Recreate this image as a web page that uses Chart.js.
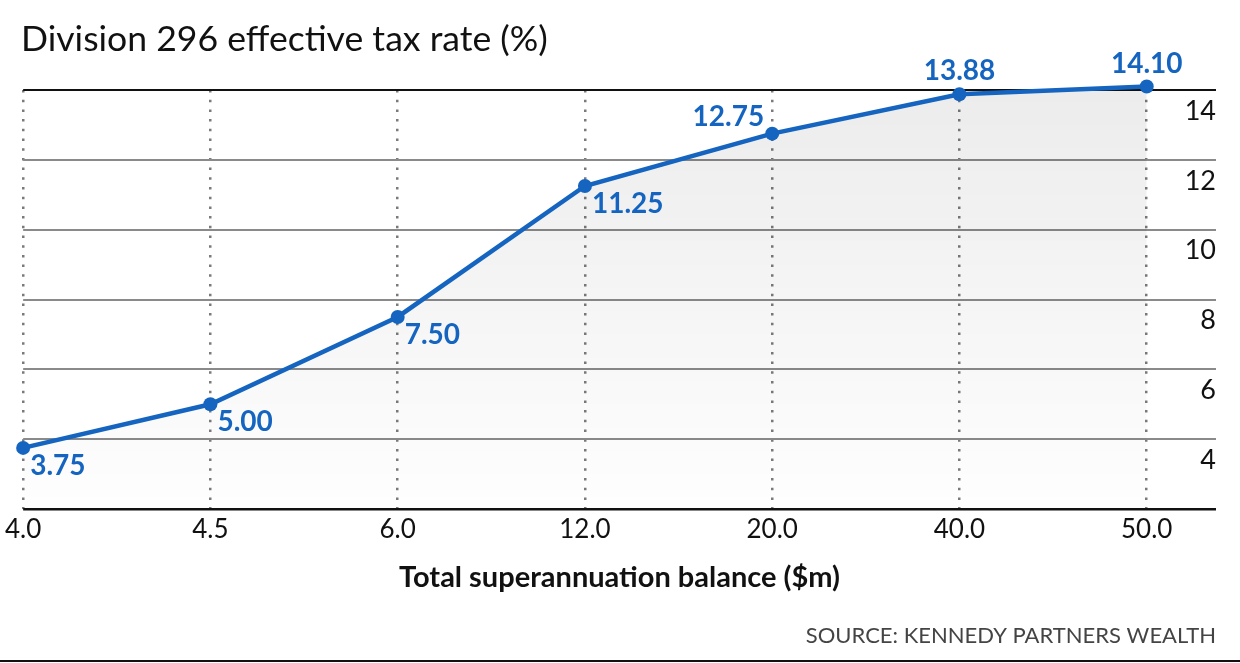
<!DOCTYPE html>
<html>
<head>
<meta charset="utf-8">
<script src="https://cdn.jsdelivr.net/npm/chart.js@4.4.0/dist/chart.umd.min.js"></script>
<style>
  html, body { margin: 0; padding: 0; background: #fff; }
  #wrap { width: 1240px; height: 663px; }
</style>
</head>
<body>
<div id="wrap"><canvas id="myChart" width="1240" height="663"></canvas></div>
<script>
  // data
  const balances = ['4.0', '4.5', '6.0', '12.0', '20.0', '40.0', '50.0'];
  const taxRates = [3.75, 5.00, 7.50, 11.25, 12.75, 13.88, 14.10];
  const rateTicks = [2, 4, 6, 8, 10, 12, 14];

  const blue = '#1565c0';
  const fontFamily = 'Lato, "Noto Sans", sans-serif';

  // where each value label sits relative to its point
  const labelPlace = ['br', 'br', 'br', 'br', 'al', 'a', 'a'];

  const decorPlugin = {
    id: 'decor',
    afterDraw(chart) {
      const ctx = chart.ctx;
      ctx.save();
      // title
      ctx.fillStyle = '#111';
      ctx.font = '35.6px ' + fontFamily;
      ctx.textAlign = 'left';
      ctx.textBaseline = 'alphabetic';
      ctx.fillText('Division 296 effective tax rate (%)', 21, 51);
      // source
      ctx.fillStyle = '#444';
      ctx.font = '22px ' + fontFamily;
      ctx.textAlign = 'right';
      ctx.fillText('SOURCE: KENNEDY PARTNERS WEALTH', 1216, 643);
      // bottom rule
      ctx.strokeStyle = '#111';
      ctx.lineWidth = 2;
      ctx.beginPath();
      ctx.moveTo(0, 661);
      ctx.lineTo(1240, 661);
      ctx.stroke();

      // value labels
      const meta = chart.getDatasetMeta(0);
      ctx.fillStyle = blue;
      ctx.font = 'bold 28px ' + fontFamily;
      ctx.textBaseline = 'middle';
      meta.data.forEach((pt, i) => {
        const txt = taxRates[i].toFixed(2);
        const p = labelPlace[i];
        if (p === 'br') {
          ctx.textAlign = 'left';
          ctx.fillText(txt, pt.x + 7, pt.y + 18);
        } else if (p === 'al') {
          ctx.textAlign = 'right';
          ctx.fillText(txt, pt.x - 8, pt.y - 17);
        } else {
          ctx.textAlign = 'center';
          ctx.fillText(txt, pt.x, pt.y - 23);
        }
      });
      ctx.restore();
    }
  };

  const myChart = new Chart('myChart', {
    type: 'line',
    data: {
      labels: balances,
      datasets: [{
        label: 'Effective tax rate',
        data: taxRates.map((v, i) => ({ x: i, y: v })),
        borderColor: blue,
        borderWidth: 4.5,
        pointBackgroundColor: blue,
        pointBorderColor: blue,
        pointRadius: 7,
        pointBorderWidth: 0,
        tension: 0,
        clip: false,
        fill: 'start',
        backgroundColor: function (c) {
          const area = c.chart.chartArea;
          if (!area) return 'rgba(0,0,0,0.05)';
          const g = c.chart.ctx.createLinearGradient(0, area.top, 0, area.bottom);
          g.addColorStop(0, 'rgba(0,0,0,0.075)');
          g.addColorStop(1, 'rgba(0,0,0,0.005)');
          return g;
        }
      }]
    },
    options: {
      responsive: false,
      maintainAspectRatio: false,
      animation: false,
      layout: {
        padding: { top: 90, left: 18, right: 24, bottom: 68 }
      },
      scales: {
        x: {
          type: 'linear',
          min: 0,
          max: 6.37,
          afterBuildTicks: function (scale) {
            scale.ticks = balances.map((_, i) => ({ value: i }));
          },
          grid: {
            drawTicks: false,
            color: '#7a7a7a',
            lineWidth: 2.5
          },
          border: { display: false, dash: [2.5, 7.2] },
          ticks: {
            padding: 5,
            color: '#111',
            font: { family: fontFamily, size: 26 },
            maxRotation: 0,
            callback: function (v) { return balances[v]; }
          },
          title: {
            display: true,
            text: 'Total superannuation balance ($m)',
            color: '#111',
            font: { family: fontFamily, size: 29, weight: 'bold' },
            padding: { top: 10, bottom: 0 }
          }
        },
        y: {
          position: 'right',
          min: 2,
          max: 14,
          afterBuildTicks: function (scale) {
            scale.ticks = rateTicks.map(v => ({ value: v }));
          },
          grid: {
            drawTicks: false,
            color: function (c) {
              const v = c.tick && c.tick.value;
              return (v === 14 || v === 2) ? '#111' : '#8a8a8a';
            },
            lineWidth: function (c) {
              const v = c.tick && c.tick.value;
              return v === 2 ? 2.5 : 2;
            }
          },
          border: { display: false },
          ticks: {
            mirror: true,
            padding: 0,
            labelOffset: 21,
            color: '#111',
            font: { family: fontFamily, size: 27 },
            callback: function (v) { return v === 2 ? '' : v; }
          }
        }
      },
      plugins: {
        legend: { display: false },
        tooltip: { enabled: false }
      }
    },
    plugins: [decorPlugin]
  });
</script>
</body>
</html>
